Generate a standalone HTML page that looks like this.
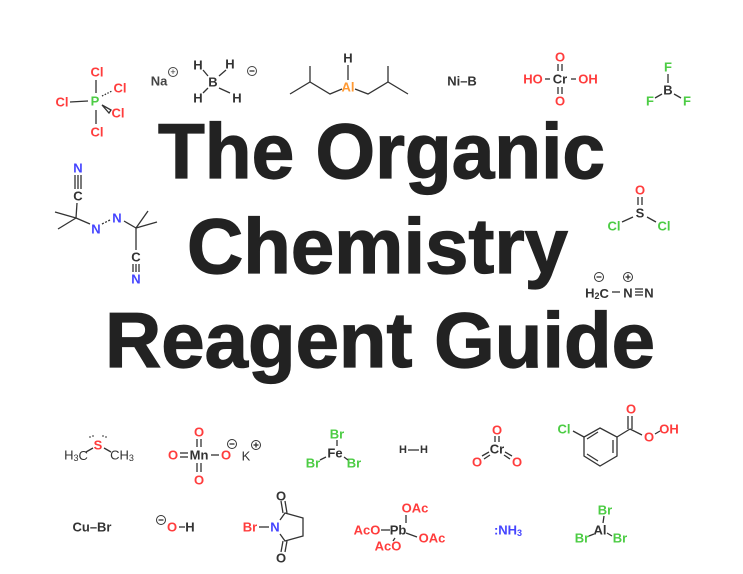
<!DOCTYPE html>
<html><head><meta charset="utf-8"><style>
html,body{margin:0;padding:0;background:#fff;}
svg{display:block;}
text{font-family:"Liberation Sans",Arial,sans-serif;}
.a{font-size:13px;font-weight:bold;text-anchor:middle;dominant-baseline:central;}
.r{fill:#ff3c3c}.g{fill:#4ccc44}.b{fill:#4444ff}.k{fill:#333}.o{fill:#ff9933}
.c{font-size:13px;text-anchor:middle;dominant-baseline:central;fill:#333}
line,polyline,polygon{stroke:#333;stroke-width:1.3;fill:none}
.t{font-size:78px;font-weight:bold;fill:#222;stroke:#222;stroke-width:1.2;}
</style></head><body>
<svg width="743" height="574" viewBox="0 0 743 574" xmlns="http://www.w3.org/2000/svg">
<!-- Title -->
<text class="t" x="158" y="178" textLength="447" lengthAdjust="spacingAndGlyphs">The Organic</text>
<text class="t" x="187" y="273" textLength="381" lengthAdjust="spacingAndGlyphs">Chemistry</text>
<text class="t" x="105" y="367" textLength="550" lengthAdjust="spacingAndGlyphs">Reagent Guide</text>

<!-- PCl5 -->
<line x1="96" y1="80" x2="96" y2="93"/><line x1="96" y1="110" x2="96" y2="124"/>
<line x1="70" y1="102" x2="88" y2="101"/>
<line x1="102" y1="96" x2="112" y2="91" stroke-dasharray="1.5,1.5"/>
<polygon points="102,105 111,110 109,113" fill="#333"/>
<text class="a g" x="95" y="101">P</text>
<text class="a r" x="97" y="72">Cl</text><text class="a r" x="120" y="88">Cl</text>
<text class="a r" x="62" y="102">Cl</text><text class="a r" x="118" y="113">Cl</text>
<text class="a r" x="97" y="132">Cl</text>
<!-- NaBH4 -->
<text class="a k" x="159" y="81" style="fill:#444">Na</text>
<circle cx="173" cy="72" r="4.5" stroke="#444" fill="none"/><text class="c" x="173" y="72" style="font-size:9px">+</text>
<text class="a k" x="213" y="82">B</text>
<text class="a k" x="198" y="65">H</text><text class="a k" x="230" y="64">H</text>
<text class="a k" x="198" y="98">H</text><text class="a k" x="237" y="98">H</text>
<line x1="203" y1="70" x2="208" y2="76"/><line x1="226" y1="70" x2="219" y2="76"/>
<line x1="203" y1="93" x2="208" y2="88"/><line x1="219" y1="88" x2="230" y2="93"/>
<circle cx="252" cy="71" r="4.5" stroke="#444" fill="none"/><line x1="249.5" y1="71" x2="254.5" y2="71"/>
<!-- DIBAL -->
<polyline points="290,94 310,82 330,94 342,89"/><line x1="310" y1="82" x2="310" y2="66"/>
<polyline points="355,89 368,94 388,82 408,94"/><line x1="388" y1="82" x2="388" y2="66"/>
<line x1="348" y1="65" x2="348" y2="80"/>
<text class="a k" x="348" y="58">H</text><text class="a o" x="348" y="87">Al</text>
<!-- NiB -->
<text class="a k" x="462" y="81">Ni–B</text>
<!-- H2CrO4 -->
<text class="a r" x="533" y="79">HO</text><text class="a k" x="560" y="79">Cr</text><text class="a r" x="588" y="79">OH</text>
<line x1="545" y1="79" x2="550" y2="79"/><line x1="571" y1="79" x2="576" y2="79"/>
<text class="a r" x="560" y="57">O</text><text class="a r" x="560" y="101">O</text>
<line x1="558" y1="64" x2="558" y2="71"/><line x1="562" y1="64" x2="562" y2="71"/>
<line x1="558" y1="87" x2="558" y2="94"/><line x1="562" y1="87" x2="562" y2="94"/>
<!-- BF3 -->
<text class="a g" x="668" y="67">F</text><text class="a k" x="668" y="90">B</text>
<text class="a g" x="650" y="101">F</text><text class="a g" x="687" y="101">F</text>
<line x1="668" y1="74" x2="668" y2="83"/><line x1="655" y1="98" x2="662" y2="94"/><line x1="674" y1="94" x2="681" y2="98"/>
<!-- AIBN -->
<text class="a b" x="78" y="168">N</text>
<line x1="75" y1="175" x2="75" y2="189"/><line x1="78" y1="175" x2="78" y2="189"/><line x1="81" y1="175" x2="81" y2="189"/>
<text class="a k" x="78" y="196">C</text>
<line x1="77" y1="203" x2="76" y2="218"/>
<line x1="76" y1="218" x2="55" y2="212"/><line x1="76" y1="218" x2="58" y2="229"/>
<line x1="76" y1="218" x2="90" y2="224"/>
<text class="a b" x="96" y="229">N</text><text class="a b" x="117" y="218">N</text>
<line x1="102" y1="224" x2="110" y2="220" stroke-dasharray="2,1.5"/>
<line x1="124" y1="221" x2="136" y2="228"/>
<line x1="136" y1="228" x2="148" y2="211"/><line x1="136" y1="228" x2="157" y2="222"/>
<line x1="136" y1="228" x2="136" y2="250"/>
<text class="a k" x="136" y="257">C</text>
<line x1="133" y1="264" x2="133" y2="272"/><line x1="136" y1="264" x2="136" y2="272"/><line x1="139" y1="264" x2="139" y2="272"/>
<text class="a b" x="136" y="279">N</text>
<!-- SOCl2 -->
<text class="a r" x="640" y="190">O</text>
<line x1="638" y1="197" x2="638" y2="205"/><line x1="642" y1="197" x2="642" y2="205"/>
<text class="a k" x="640" y="213">S</text>
<text class="a g" x="614" y="226">Cl</text><text class="a g" x="664" y="226">Cl</text>
<line x1="622" y1="222" x2="633" y2="217"/><line x1="647" y1="217" x2="656" y2="222"/>
<!-- diazomethane -->
<text class="a k" x="597" y="293">H<tspan font-size="9" dy="3">2</tspan><tspan dy="-3">C</tspan></text>
<line x1="612" y1="292" x2="620" y2="292"/>
<text class="a k" x="628" y="293">N</text>
<line x1="635" y1="289" x2="643" y2="289"/><line x1="635" y1="292" x2="643" y2="292"/><line x1="635" y1="295" x2="643" y2="295"/>
<text class="a k" x="649" y="293">N</text>
<circle cx="599" cy="277" r="4.5" stroke="#333" fill="none"/><line x1="596.5" y1="277" x2="601.5" y2="277"/>
<circle cx="628" cy="277" r="4.5" stroke="#333" fill="none"/><line x1="625.5" y1="277" x2="630.5" y2="277"/><line x1="628" y1="274.5" x2="628" y2="279.5"/>
<!-- DMS -->
<text class="c" x="76" y="455">H<tspan font-size="9" dy="3">3</tspan><tspan dy="-3">C</tspan></text>
<text class="a r" x="98" y="445">S</text>
<text class="c" x="122" y="455">CH<tspan font-size="9" dy="3">3</tspan></text>
<line x1="86" y1="452" x2="93" y2="448"/><line x1="104" y1="448" x2="111" y2="452"/>
<circle cx="90" cy="437" r="0.9" fill="#555" stroke="none"/><circle cx="93" cy="436" r="0.9" fill="#555" stroke="none"/>
<circle cx="103" cy="436" r="0.9" fill="#555" stroke="none"/><circle cx="106" cy="437" r="0.9" fill="#555" stroke="none"/>
<!-- KMnO4 -->
<text class="a r" x="173" y="455">O</text>
<line x1="180" y1="453" x2="188" y2="453"/><line x1="180" y1="457" x2="188" y2="457"/>
<text class="a k" x="199" y="455">Mn</text>
<line x1="211" y1="455" x2="219" y2="455"/>
<text class="a r" x="226" y="455">O</text>
<text class="a r" x="199" y="432">O</text><text class="a r" x="199" y="480">O</text>
<line x1="197" y1="439" x2="197" y2="447"/><line x1="201" y1="439" x2="201" y2="447"/>
<line x1="197" y1="463" x2="197" y2="472"/><line x1="201" y1="463" x2="201" y2="472"/>
<circle cx="232" cy="444" r="4.5" stroke="#333" fill="none"/><line x1="229.5" y1="444" x2="234.5" y2="444"/>
<text class="c" x="246" y="456">K</text>
<circle cx="256" cy="445" r="4.5" stroke="#333" fill="none"/><line x1="253.5" y1="445" x2="258.5" y2="445"/><line x1="256" y1="442.5" x2="256" y2="447.5"/>
<!-- FeBr3 -->
<text class="a g" x="337" y="434">Br</text><text class="a k" x="335" y="453">Fe</text>
<text class="a g" x="313" y="463">Br</text><text class="a g" x="354" y="463">Br</text>
<line x1="337" y1="440" x2="337" y2="446"/><line x1="320" y1="460" x2="326" y2="457"/><line x1="344" y1="457" x2="348" y2="460"/>
<!-- H2 -->
<text class="a k" x="403" y="450" style="font-size:11px">H</text><line x1="408" y1="450" x2="419" y2="450"/><text class="a k" x="424" y="450" style="font-size:11px">H</text>
<!-- CrO3 -->
<text class="a k" x="497" y="449">Cr</text><text class="a r" x="497" y="430">O</text>
<text class="a r" x="477" y="462">O</text><text class="a r" x="517" y="462">O</text>
<line x1="495" y1="436" x2="495" y2="442"/><line x1="499" y1="436" x2="499" y2="442"/>
<line x1="482" y1="456" x2="489" y2="452"/><line x1="484" y1="459" x2="490" y2="455"/>
<line x1="505" y1="452" x2="512" y2="456"/><line x1="504" y1="455" x2="510" y2="459"/>
<!-- mCPBA -->
<polygon points="600,428 617,437 617,456 600,466 584,456 584,437"/>
<line x1="613" y1="440" x2="613" y2="453"/><line x1="598" y1="461" x2="587" y2="454"/><line x1="587" y1="439" x2="598" y2="432"/>
<line x1="584" y1="437" x2="573" y2="431"/>
<text class="a g" x="564" y="429">Cl</text>
<line x1="617" y1="437" x2="630" y2="429"/>
<line x1="628" y1="429" x2="628" y2="416"/><line x1="632" y1="429" x2="632" y2="416"/>
<text class="a r" x="631" y="409">O</text>
<line x1="630" y1="429" x2="642" y2="435"/>
<text class="a r" x="649" y="437">O</text>
<line x1="655" y1="434" x2="660" y2="431"/>
<text class="a r" x="669" y="429">OH</text>
<!-- CuBr -->
<text class="a k" x="92" y="527">Cu–Br</text>
<!-- OH- -->
<circle cx="161" cy="520" r="4.5" stroke="#333" fill="none"/><line x1="158.5" y1="520" x2="163.5" y2="520"/>
<text class="a r" x="172" y="527">O</text><line x1="179" y1="527" x2="185" y2="527"/><text class="a k" x="190" y="527">H</text>
<!-- NBS -->
<text class="a r" x="250" y="527">Br</text><line x1="259" y1="527" x2="269" y2="527"/>
<text class="a b" x="275" y="527">N</text>
<polyline points="280,520 285,513 303,518 303,536 285,541 280,534"/>
<line x1="283" y1="513" x2="281" y2="501"/><line x1="287" y1="513" x2="285" y2="501"/>
<line x1="283" y1="541" x2="281" y2="552"/><line x1="287" y1="541" x2="285" y2="552"/>
<text class="a k" x="281" y="496">O</text><text class="a k" x="281" y="558">O</text>
<!-- Pb(OAc)4 -->
<text class="a k" x="398" y="530">Pb</text>
<text class="a r" x="415" y="508">OAc</text><text class="a r" x="367" y="530">AcO</text>
<text class="a r" x="432" y="538">OAc</text><text class="a r" x="388" y="546">AcO</text>
<line x1="406" y1="515" x2="406" y2="523"/><line x1="381" y1="530" x2="390" y2="530"/>
<line x1="406" y1="533" x2="417" y2="537"/><line x1="395" y1="538" x2="393" y2="541"/>
<!-- NH3 -->
<text class="a b" x="508" y="530">:NH<tspan font-size="9" dy="3">3</tspan></text>
<!-- AlBr3 -->
<text class="a g" x="605" y="510">Br</text><text class="a k" x="600" y="530">Al</text>
<text class="a g" x="582" y="538">Br</text><text class="a g" x="620" y="538">Br</text>
<line x1="604" y1="516" x2="603" y2="523"/><line x1="589" y1="536" x2="594" y2="534"/><line x1="607" y1="533" x2="612" y2="536"/>
</svg>
</body></html>
